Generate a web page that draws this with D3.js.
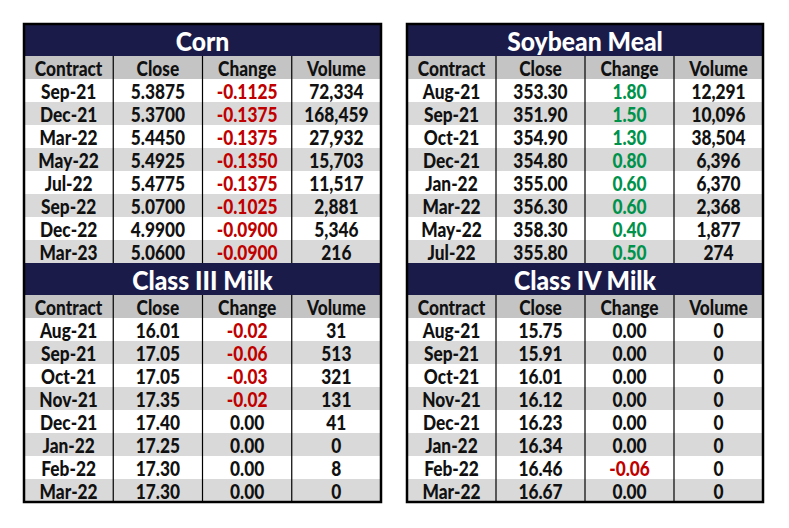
<!DOCTYPE html>
<html>
<head>
<meta charset="utf-8">
<script src="https://cdn.jsdelivr.net/npm/d3@7"></script>
<style>
  body { margin: 0; background: #fff; }
  text { font-family: Lato, Roboto, sans-serif; font-weight: 900; }
</style>
</head>
<body>
<svg id="chart"></svg>
<script>
// Table data
const headers = ["Contract", "Close", "Change", "Volume"];

const cornContracts = ["Sep-21", "Dec-21", "Mar-22", "May-22", "Jul-22", "Sep-22", "Dec-22", "Mar-23"];
const cornClose = [5.3875, 5.3700, 5.4450, 5.4925, 5.4775, 5.0700, 4.9900, 5.0600];
const cornChange = [-0.1125, -0.1375, -0.1375, -0.1350, -0.1375, -0.1025, -0.0900, -0.0900];
const cornVolume = [72334, 168459, 27932, 15703, 11517, 2881, 5346, 216];

const soyContracts = ["Aug-21", "Sep-21", "Oct-21", "Dec-21", "Jan-22", "Mar-22", "May-22", "Jul-22"];
const soyClose = [353.30, 351.90, 354.90, 354.80, 355.00, 356.30, 358.30, 355.80];
const soyChange = [1.80, 1.50, 1.30, 0.80, 0.60, 0.60, 0.40, 0.50];
const soyVolume = [12291, 10096, 38504, 6396, 6370, 2368, 1877, 274];

const milk3Contracts = ["Aug-21", "Sep-21", "Oct-21", "Nov-21", "Dec-21", "Jan-22", "Feb-22", "Mar-22"];
const milk3Close = [16.01, 17.05, 17.05, 17.35, 17.40, 17.25, 17.30, 17.30];
const milk3Change = [-0.02, -0.06, -0.03, -0.02, 0.00, 0.00, 0.00, 0.00];
const milk3Volume = [31, 513, 321, 131, 41, 0, 8, 0];

const milk4Contracts = ["Aug-21", "Sep-21", "Oct-21", "Nov-21", "Dec-21", "Jan-22", "Feb-22", "Mar-22"];
const milk4Close = [15.75, 15.91, 16.01, 16.12, 16.23, 16.34, 16.46, 16.67];
const milk4Change = [0.00, 0.00, 0.00, 0.00, 0.00, 0.00, -0.06, 0.00];
const milk4Volume = [0, 0, 0, 0, 0, 0, 0, 0];

const width = 789, height = 528;
const colors = {
  title: "#1b1b4a",
  header: "#c4c4c4",
  alt: "#d9d9d9",
  red: "#c00000",
  green: "#00924a"
};

const svg = d3.select("#chart").attr("width", width).attr("height", height);

const titleH = 32, headerH = 23, rowH = 23;
const blockH = titleH + headerH + rowH * 8;
const squeeze = 0.865; // narrow the glyphs to look like a condensed face

const fmtVol = d3.format(",");
const hyph = s => s.replace("\u2212", "-");

// centred, horizontally condensed label
function label(sel, size, sx) {
  return sel
    .attr("text-anchor", "middle").attr("dominant-baseline", "central")
    .attr("font-size", size)
    .attr("transform", d => `translate(${d.x},${d.y}) scale(${sx},1)`);
}

function drawBlock(g, x0, x1, y0, title, contracts, close, change, volume, dec) {
  const xCol = d3.scaleBand().domain(headers).range([x0, x1]);
  const yRow = d3.scaleBand().domain(d3.range(8)).range([y0 + titleH + headerH, y0 + blockH]);
  const fmt = d3.format("." + dec + "f");
  const cx = c => xCol(c) + xCol.bandwidth() / 2;

  g.append("rect")
    .attr("x", x0).attr("y", y0).attr("width", x1 - x0).attr("height", titleH)
    .attr("fill", colors.title);
  g.selectAll(null).data([{ x: (x0 + x1) / 2, y: y0 + titleH / 2 + 0.5, t: title }]).join("text")
    .call(label, 26, 0.95)
    .attr("fill", "#fff")
    .text(d => d.t);

  g.append("rect")
    .attr("x", x0).attr("y", y0 + titleH).attr("width", x1 - x0).attr("height", headerH)
    .attr("fill", colors.header);
  g.selectAll(null).data(headers.map(h => ({ x: cx(h), y: y0 + titleH + headerH / 2 + 1, t: h }))).join("text")
    .call(label, 20, squeeze)
    .attr("fill", "#111")
    .text(d => d.t);

  const rows = contracts.map((c, i) => ({
    i,
    cells: [
      { text: c, color: "#111" },
      { text: fmt(close[i]), color: "#111" },
      { text: hyph(fmt(change[i])), color: change[i] < 0 ? colors.red : change[i] > 0 ? colors.green : "#111" },
      { text: fmtVol(volume[i]), color: "#111" }
    ]
  }));

  const row = g.selectAll(null).data(rows).join("g");
  row.append("rect")
    .attr("x", x0).attr("y", d => yRow(d.i))
    .attr("width", x1 - x0).attr("height", yRow.bandwidth())
    .attr("fill", d => d.i % 2 ? colors.alt : "#fff");
  row.selectAll("text")
    .data(d => d.cells.map((c, k) => ({ ...c, x: cx(headers[k]), y: yRow(d.i) + yRow.bandwidth() / 2 + 1 })))
    .join("text")
    .call(label, 20, squeeze)
    .attr("fill", d => d.color)
    .text(d => d.text);

  // column dividers
  g.selectAll(null).data(headers.slice(1)).join("line")
    .attr("x1", d => xCol(d)).attr("x2", d => xCol(d))
    .attr("y1", y0 + titleH).attr("y2", y0 + blockH)
    .attr("stroke", "#000").attr("stroke-width", 1.2);
}

const tables = [
  { x0: 24, x1: 381, y0: 24, title: "Corn", c: cornContracts, cl: cornClose, ch: cornChange, v: cornVolume, dec: 4 },
  { x0: 24, x1: 381, y0: 24 + blockH, title: "Class III Milk", c: milk3Contracts, cl: milk3Close, ch: milk3Change, v: milk3Volume, dec: 2 },
  { x0: 407, x1: 763, y0: 24, title: "Soybean Meal", c: soyContracts, cl: soyClose, ch: soyChange, v: soyVolume, dec: 2 },
  { x0: 407, x1: 763, y0: 24 + blockH, title: "Class IV Milk", c: milk4Contracts, cl: milk4Close, ch: milk4Change, v: milk4Volume, dec: 2 }
];

tables.forEach(t => {
  drawBlock(svg.append("g"), t.x0, t.x1, t.y0, t.title, t.c, t.cl, t.ch, t.v, t.dec);
});

// outer borders around each column of tables
[[24, 381], [407, 763]].forEach(([a, b]) => {
  svg.append("rect")
    .attr("x", a).attr("y", 24).attr("width", b - a).attr("height", blockH * 2)
    .attr("fill", "none").attr("stroke", "#000").attr("stroke-width", 2.5);
});
</script>
</body>
</html>
